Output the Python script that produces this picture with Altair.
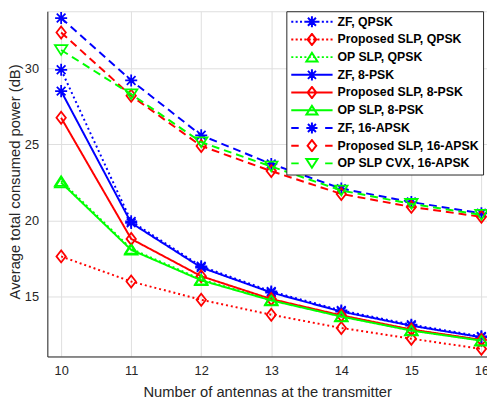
import altair as alt
import pandas as pd

# ---------------- data ----------------
antennas = [10, 11, 12, 13, 14, 15, 16]

zf_qpsk = [29.9, 19.95, 17.0, 15.35, 14.1, 13.17, 12.4]
slp_qpsk = [17.65, 16.0, 14.8, 13.82, 12.95, 12.25, 11.58]
op_qpsk = [22.6, 18.15, 16.13, 14.8, 13.74, 12.82, 12.15]
zf_8psk = [28.5, 19.85, 16.92, 15.28, 14.03, 13.1, 12.34]
slp_8psk = [26.75, 18.8, 16.35, 14.85, 13.78, 12.85, 12.17]
op_8psk = [22.5, 18.08, 16.08, 14.76, 13.7, 12.78, 12.12]
zf_16apsk = [33.3, 29.2, 25.6, 23.72, 22.1, 21.22, 20.48]
slp_16apsk = [32.35, 28.2, 24.9, 23.25, 21.75, 20.9, 20.25]
op_16apsk = [31.2, 28.3, 25.15, 23.55, 21.98, 21.1, 20.38]

series_names = [
    "ZF, QPSK", "Proposed SLP, QPSK", "OP SLP, QPSK",
    "ZF, 8-PSK", "Proposed SLP, 8-PSK", "OP SLP, 8-PSK",
    "ZF, 16-APSK", "Proposed SLP, 16-APSK", "OP SLP CVX, 16-APSK",
]
series_values = [zf_qpsk, slp_qpsk, op_qpsk, zf_8psk, slp_8psk, op_8psk,
                 zf_16apsk, slp_16apsk, op_16apsk]

x_ticks = [10, 11, 12, 13, 14, 15, 16]
y_ticks = [15, 20, 25, 30]

# ---------------- styles ----------------
BLUE, RED, GREEN = "#0000ff", "#ff0000", "#00ff00"
series_colors = [BLUE, RED, GREEN] * 3
series_styles = ["dotted"] * 3 + ["solid"] * 3 + ["dashed"] * 3
series_markers = ["ast", "dia", "tru", "ast", "dia", "tru", "ast", "dia", "trd"]

dash_of = {"dotted": [2, 3], "solid": [1, 0], "dashed": [8, 5]}

marker_polys = {
    "ast": ([[(-1, 0), (1, 0)], [(0, -1), (0, 1)],
             [(-0.72, -0.72), (0.72, 0.72)], [(-0.72, 0.72), (0.72, -0.72)]], False),
    "dia": ([[(0, -1), (0.78, 0), (0, 1), (-0.78, 0)]], True),
    "tru": ([[(0, -0.78), (1, 0.78), (-1, 0.78)]], True),
    "trd": ([[(0, 0.78), (1, -0.78), (-1, -0.78)]], True),
}
marker_size = {"ast": 150, "dia": 150, "tru": 160, "trd": 160}


def fmt(v):
    return ("%.3f" % v).rstrip("0").rstrip(".")


def marker_path(kind, scale=1.0, sy=1.0):
    polys, closed = marker_polys[kind]
    out = []
    for poly in polys:
        pts = ["%s,%s" % (fmt(px * scale), fmt(py * scale * sy)) for px, py in poly]
        out.append("M" + "L".join(pts) + ("Z" if closed else ""))
    return "".join(out)


def legend_path(style, kind):
    # line sample spans -1..1 horizontally, marker in the middle
    if style == "solid":
        line = "M-1,0L1,0"
    elif style == "dashed":
        line = "M-1,0L-0.64,0M0.64,0L1,0"
    else:
        n = 10
        step = (2 - 0.1) / (n - 1)
        line = "".join("M%s,0L%s,0" % (fmt(-1 + i * step), fmt(-1 + i * step + 0.1))
                       for i in range(n))
    return line + marker_path(kind, 0.27, 1.0)


rows = []
for name, vals in zip(series_names, series_values):
    for xv, yv in zip(antennas, vals):
        rows.append({"antennas": xv, "power": yv, "series": name})
df = pd.DataFrame(rows)

FONT = "Liberation Sans"
AXC = "#262626"
GRID = "#dedede"

x_enc = alt.X(
    "antennas:Q",
    scale=alt.Scale(domain=[9.803, 16.08], nice=False, zero=False),
    axis=alt.Axis(
        values=x_ticks, format="d", title="Number of antennas at the transmitter",
        grid=True, gridColor=GRID, gridWidth=1, domainColor=AXC, domainWidth=1,
        ticks=False, labelFont=FONT, labelFontSize=13, labelColor=AXC, labelPadding=8,
        titleFont=FONT, titleFontSize=15, titleFontWeight="normal", titleColor=AXC,
        titleY=36, titleBaseline="middle",
    ),
)
y_enc = alt.Y(
    "power:Q",
    scale=alt.Scale(domain=[11.08, 33.745], nice=False, zero=False),
    axis=alt.Axis(
        values=y_ticks, format="d", title="Average total consumed power (dB)",
        grid=True, gridColor=GRID, gridWidth=1, domainColor=AXC, domainWidth=1,
        ticks=False, labelFont=FONT, labelFontSize=13, labelColor=AXC, labelPadding=9,
        titleFont=FONT, titleFontSize=15, titleFontWeight="normal", titleColor=AXC,
        titleX=-33, titleY=173, titleBaseline="middle",
    ),
)

layers = []
for name, col, sty, mk in zip(series_names, series_colors, series_styles, series_markers):
    base = alt.Chart().transform_filter(alt.datum.series == name)
    layers.append(
        base.mark_line(color=col, strokeDash=dash_of[sty], strokeWidth=2)
        .encode(x=x_enc, y=y_enc)
    )
    layers.append(
        base.mark_point(shape=marker_path(mk), size=marker_size[mk], filled=False,
                        color=col, strokeWidth=1.8, opacity=1)
        .encode(x=x_enc, y=y_enc)
    )

legend_shapes = [legend_path(s, m) for s, m in zip(series_styles, series_markers)]
leg = alt.Legend(
    title=None, orient="none", legendX=243, legendY=0,
    fillColor="#ffffff", strokeColor=AXC, padding=4, rowPadding=4, clipHeight=13.3,
    symbolSize=1764, symbolStrokeWidth=2, symbolOpacity=1,
    symbolFillColor="transparent", labelOffset=4, labelLimit=300,
    labelFont=FONT, labelFontSize=12.5, labelFontWeight="bold", labelColor="#000000",
)
legend_layer = alt.Chart().mark_point(opacity=0, filled=False).encode(
    x=x_enc, y=y_enc,
    color=alt.Color("series:N", scale=alt.Scale(domain=series_names, range=series_colors),
                    legend=leg, sort=series_names),
    shape=alt.Shape("series:N", scale=alt.Scale(domain=series_names, range=legend_shapes),
                    legend=leg, sort=series_names),
)
layers.append(legend_layer)

chart = alt.layer(*layers, data=df).properties(
    width=447, height=351,
    padding={"left": 40, "top": 0, "right": 0, "bottom": 45},
    autosize=alt.AutoSizeParams(type="none"),
).configure_view(stroke=None).configure(background="#ffffff")

chart.save("out.html", embed_options={"renderer": "svg", "actions": False})
